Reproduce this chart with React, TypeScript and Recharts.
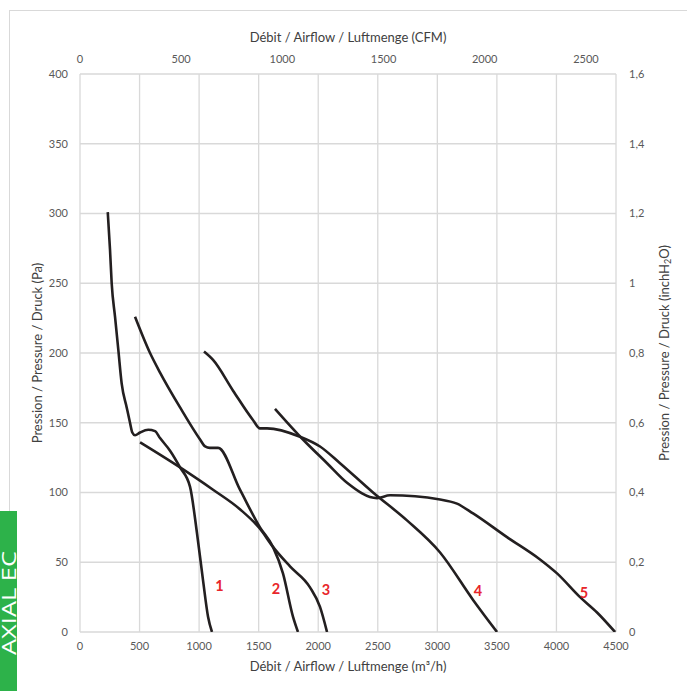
import {
  CartesianGrid,
  Label,
  Line,
  LineChart,
  ReferenceDot,
  XAxis,
  YAxis,
} from 'recharts'

// airflow in m3/h, pressure in Pa
const curve1 = [
  { q: 233, p: 301 },
  { q: 252, p: 274 },
  { q: 266, p: 250 },
  { q: 294, p: 226 },
  { q: 322, p: 202 },
  { q: 350, p: 178 },
  { q: 392, p: 161 },
  { q: 420, p: 150 },
  { q: 439, p: 143 },
  { q: 462, p: 141 },
  { q: 504, p: 143 },
  { q: 573, p: 145 },
  { q: 630, p: 144 },
  { q: 672, p: 139 },
  { q: 756, p: 130 },
  { q: 840, p: 118 },
  { q: 924, p: 104 },
  { q: 982, p: 71 },
  { q: 1033, p: 37 },
  { q: 1075, p: 11 },
  { q: 1108, p: 0 },
]

const curve2 = [
  { q: 462, p: 226 },
  { q: 588, p: 200 },
  { q: 672, p: 186 },
  { q: 840, p: 161 },
  { q: 1008, p: 138 },
  { q: 1050, p: 133 },
  { q: 1091, p: 132 },
  { q: 1159, p: 132 },
  { q: 1343, p: 102 },
  { q: 1511, p: 75 },
  { q: 1620, p: 61 },
  { q: 1704, p: 42 },
  { q: 1788, p: 11 },
  { q: 1830, p: 0 },
]

const curve3 = [
  { q: 504, p: 136 },
  { q: 840, p: 118 },
  { q: 1117, p: 102 },
  { q: 1343, p: 88 },
  { q: 1511, p: 74 },
  { q: 1620, p: 61 },
  { q: 1763, p: 47 },
  { q: 1931, p: 32 },
  { q: 2015, p: 18 },
  { q: 2074, p: 0 },
]

const curve4 = [
  { q: 1041, p: 201 },
  { q: 1117, p: 195 },
  { q: 1285, p: 173 },
  { q: 1452, p: 152 },
  { q: 1511, p: 146 },
  { q: 1570, p: 146 },
  { q: 1847, p: 140 },
  { q: 2015, p: 133 },
  { q: 2183, p: 121 },
  { q: 2460, p: 100 },
  { q: 2745, p: 80 },
  { q: 3023, p: 57 },
  { q: 3300, p: 23 },
  { q: 3501, p: 0 },
]

const curve5 = [
  { q: 1637, p: 160 },
  { q: 1872, p: 138 },
  { q: 2074, p: 121 },
  { q: 2242, p: 107 },
  { q: 2494, p: 96 },
  { q: 2603, p: 98 },
  { q: 3023, p: 95 },
  { q: 3165, p: 92 },
  { q: 3300, p: 85 },
  { q: 3585, p: 68 },
  { q: 3862, p: 52 },
  { q: 4005, p: 42 },
  { q: 4198, p: 25 },
  { q: 4341, p: 14 },
  { q: 4492, p: 0 },
]

const curveLabels = [
  { name: '1', q: 1170, p: 33 },
  { name: '2', q: 1646, p: 31 },
  { name: '3', q: 2065, p: 30 },
  { name: '4', q: 3342, p: 29.5 },
  { name: '5', q: 4231, p: 28 },
]

const m3hTicks = [0, 500, 1000, 1500, 2000, 2500, 3000, 3500, 4000, 4500]
const cfmTicks = [0, 500, 1000, 1500, 2000, 2500]
const paTicks = [0, 50, 100, 150, 200, 250, 300, 350, 400]
const inchTicks = [0, 0.2, 0.4, 0.6, 0.8, 1, 1.2, 1.4, 1.6]

const M3H_PER_CFM = 1.699
const FONT = 'Lato, "Open Sans", sans-serif'
const tickStyle = { fill: '#595959', fontSize: 11, fontFamily: FONT }
const titleStyle = { fill: '#404040', fontSize: 13, fontFamily: FONT }

// only gives the top CFM axis something to scale against
const cfmAxisData = cfmTicks.map((c) => ({ c }))

function InchLabel(props: any) {
  const vb = props.viewBox
  const x = vb.x + vb.width - 2
  const y = vb.y + vb.height / 2
  return (
    <text
      x={x}
      y={y}
      transform={`rotate(-90 ${x} ${y})`}
      textAnchor="middle"
      dominantBaseline="central"
      style={titleStyle}
      fill="#404040"
    >
      Pression / Pressure / Druck (inchH
      <tspan fontSize={9} dy={3}>2</tspan>
      <tspan dy={-3}>O)</tspan>
    </text>
  )
}

const series = [curve1, curve2, curve3, curve4, curve5]

export default function App() {
  return (
    <div style={{ position: 'absolute', left: 0, top: 0, width: 687, height: 691, background: '#fff', overflow: 'hidden' }}>
      <div
        style={{
          position: 'absolute',
          left: 9,
          top: 10,
          width: 700,
          height: 700,
          border: '1px solid #d9d9d9',
        }}
      />
      <div style={{ position: 'absolute', left: 0, top: 0 }}>
        <LineChart width={687} height={691} margin={{ top: 44, right: 21, bottom: 29, left: 20 }}>
          <CartesianGrid xAxisId="m3h" yAxisId="pa" stroke="#d9d9d9" strokeWidth={1.3} />
          <XAxis
            xAxisId="m3h"
            dataKey="q"
            type="number"
            domain={[0, 4500]}
            ticks={m3hTicks}
            allowDataOverflow
            axisLine={false}
            tickLine={false}
            tickMargin={4}
            height={30}
            tick={tickStyle}
          >
            <Label value="Débit / Airflow / Luftmenge (m³/h)" position="bottom" offset={0} style={titleStyle} />
          </XAxis>
          <XAxis
            xAxisId="cfm"
            dataKey="c"
            orientation="top"
            type="number"
            domain={[0, 4500 / M3H_PER_CFM]}
            ticks={cfmTicks}
            allowDataOverflow
            axisLine={false}
            tickLine={false}
            tickMargin={5}
            height={30}
            tick={tickStyle}
          >
            <Label value="Débit / Airflow / Luftmenge (CFM)" position="top" offset={2} style={titleStyle} />
          </XAxis>
          <YAxis
            yAxisId="pa"
            type="number"
            domain={[0, 400]}
            ticks={paTicks}
            allowDataOverflow
            axisLine={false}
            tickLine={false}
            tickMargin={6}
            width={60}
            tick={tickStyle}
          >
            <Label
              value="Pression / Pressure / Druck (Pa)"
              angle={-90}
              position="insideLeft"
              offset={17}
              style={{ ...titleStyle, textAnchor: 'middle' }}
            />
          </YAxis>
          <YAxis
            yAxisId="inch"
            orientation="right"
            type="number"
            domain={[0, 1.6]}
            ticks={inchTicks}
            allowDataOverflow
            axisLine={false}
            tickLine={false}
            tickMargin={7}
            width={50}
            tick={tickStyle}
            tickFormatter={(v: number) => String(Math.round(v * 10) / 10).replace('.', ',')}
          >
            <Label content={<InchLabel />} />
          </YAxis>
          <Line
            xAxisId="cfm"
            yAxisId="pa"
            data={cfmAxisData}
            dataKey="p"
            stroke="none"
            dot={false}
            activeDot={false}
            legendType="none"
            isAnimationActive={false}
          />
          {series.map((d, i) => (
            <Line
              key={i}
              xAxisId="m3h"
              yAxisId="pa"
              data={d}
              dataKey="p"
              type="monotone"
              stroke="#231f20"
              strokeWidth={2.6}
              dot={false}
              activeDot={false}
              isAnimationActive={false}
            />
          ))}
          {curveLabels.map((l) => (
            <ReferenceDot
              key={l.name}
              xAxisId="m3h"
              yAxisId="pa"
              x={l.q}
              y={l.p}
              r={0}
              stroke="none"
              label={{
                value: l.name,
                position: 'center',
                fill: '#e8262b',
                fontSize: 14.5,
                fontWeight: 700,
                fontFamily: FONT,
              }}
            />
          ))}
        </LineChart>
      </div>
      <div
        style={{
          position: 'absolute',
          left: 0,
          top: 511,
          width: 17,
          height: 180,
          background: '#2db24a',
          overflow: 'hidden',
        }}
      >
        <svg width={17} height={180} style={{ display: 'block' }}>
          <text
            x={16}
            y={92}
            transform="rotate(-90 16 92)"
            textAnchor="middle"
            fill="#fff"
            fontFamily='"Open Sans", sans-serif'
            fontSize={20}
            textLength={104}
            lengthAdjust="spacingAndGlyphs"
          >
            AXIAL EC
          </text>
        </svg>
      </div>
    </div>
  )
}
